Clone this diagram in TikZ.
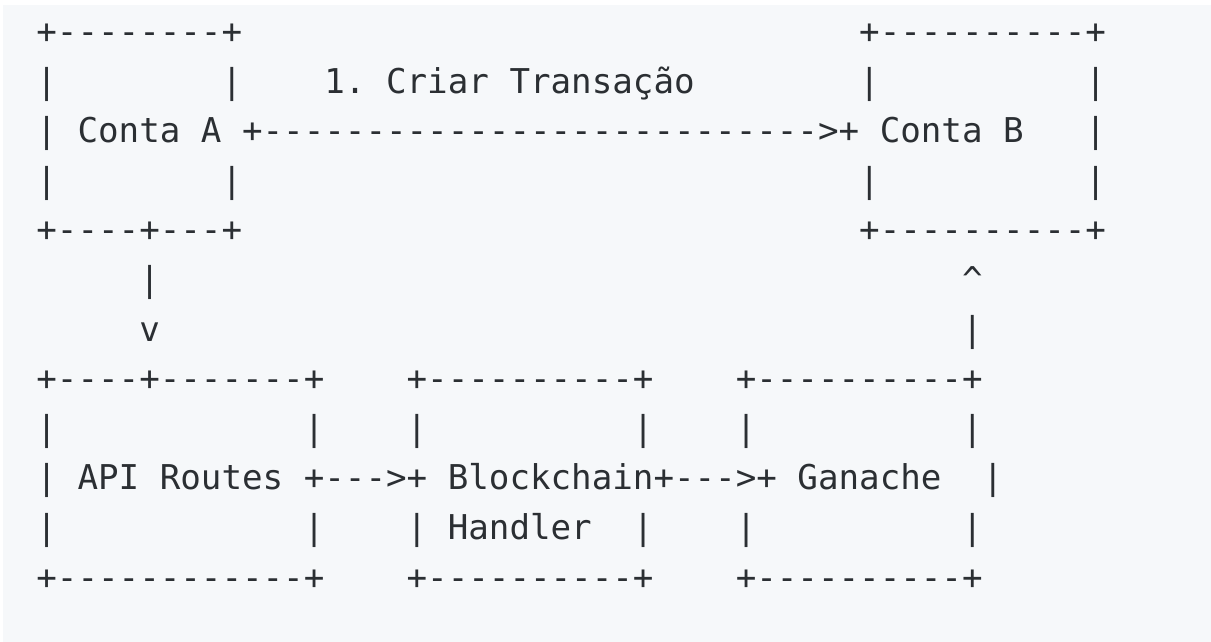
\documentclass[tikz,border=0pt]{standalone}
\usepackage{fontspec}
\setmonofont{DejaVu Sans Mono}
\definecolor{codebg}{HTML}{F6F8FA}
\definecolor{codefg}{HTML}{2B2F33}
\newcommand{\dashnine}{---------}
\begin{document}
\begin{tikzpicture}[x=1pt,y=1pt,
  ascii/.style={anchor=base west,inner sep=0pt,outer sep=0pt,text=codefg,
    font=\ttfamily\fontsize{34.17}{40}\selectfont}]
\useasboundingbox (0,0) rectangle (1211,-642);
\fill[white] (0,0) rectangle (1211,-642);
\fill[codebg] (3,-5) rectangle (1211,-642);
\begin{scope}[shift={(36.4,-43.5)},x=20.57pt,y=-49.6pt]
% row 1
\node[ascii] (r1a) at (0,0) {+--------+};
\node[ascii] (r1b) at (40,0) {+----------+};
% row 2
\node[ascii] (r2a) at (0,1) {|};
\node[ascii] (r2b) at (9,1) {|};
\node[ascii] (lbl) at (14,1) {1. Criar Transação};
\node[ascii] (r2c) at (40,1) {|};
\node[ascii] (r2d) at (51,1) {|};
% row 3
\node[ascii] (r3a) at (0,2) {|};
\node[ascii] (contaA) at (2,2) {Conta A};
\node[ascii] (arrowAB) at (10,2) {+\dashnine\dashnine\dashnine>+};
\node[ascii] (contaB) at (41,2) {Conta B};
\node[ascii] (r3b) at (51,2) {|};
% row 4
\node[ascii] (r4a) at (0,3) {|};
\node[ascii] (r4b) at (9,3) {|};
\node[ascii] (r4c) at (40,3) {|};
\node[ascii] (r4d) at (51,3) {|};
% row 5
\node[ascii] (r5a) at (0,4) {+----+---+};
\node[ascii] (r5b) at (40,4) {+----------+};
% row 6
\node[ascii] (r6a) at (5,5) {|};
\node[ascii] (r6b) at (45,5) {\char"005E};
% row 7
\node[ascii] (r7a) at (5,6) {v};
\node[ascii] (r7b) at (45,6) {|};
% row 8
\node[ascii] (r8a) at (0,7) {+----+-------+};
\node[ascii] (r8b) at (18,7) {+----------+};
\node[ascii] (r8c) at (34,7) {+----------+};
% row 9
\foreach \c [count=\i] in {0,13,18,29,34,45}
  \node[ascii] (r9-\i) at (\c,8) {|};
% row 10
\node[ascii] (r10a) at (0,9) {|};
\node[ascii] (api) at (2,9) {API Routes};
\node[ascii] (arr1) at (13,9) {+--->+};
\node[ascii] (bc) at (20,9) {Blockchain};
\node[ascii] (arr2) at (30,9) {+--->+};
\node[ascii] (gan) at (37,9) {Ganache};
\node[ascii] (r10b) at (46,9) {|};
% row 11
\foreach \c [count=\i] in {0,13,18,29,34,45}
  \node[ascii] (r11-\i) at (\c,10) {|};
\node[ascii] (handler) at (20,10) {Handler};
% row 12
\node[ascii] (r12a) at (0,11) {+------------+};
\node[ascii] (r12b) at (18,11) {+----------+};
\node[ascii] (r12c) at (34,11) {+----------+};
\end{scope}
\end{tikzpicture}
\end{document}
